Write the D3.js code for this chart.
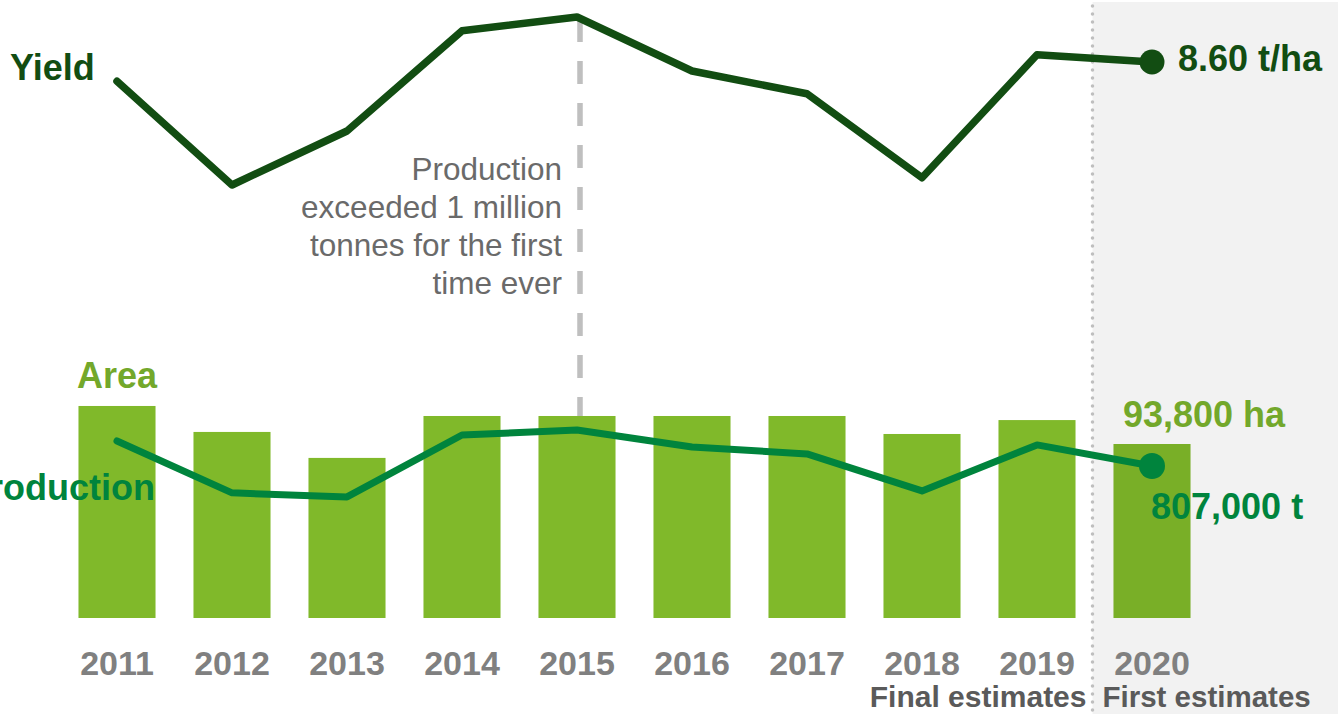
<!DOCTYPE html>
<html>
<head>
<meta charset="utf-8">
<script src="https://cdn.jsdelivr.net/npm/d3@7"></script>
<style>
  html, body { margin: 0; padding: 0; background: #fff; }
  svg text { font-family: 'Liberation Sans', Arial, sans-serif; }
</style>
</head>
<body>
<div id="chart"></div>
<script>
"use strict";
const years = ['2011', '2012', '2013', '2014', '2015', '2016', '2017', '2018', '2019', '2020'];
const area = [114300, 100300, 86300, 108900, 108900, 108900, 108900, 99200, 106700, 93800];       // ha
const production = [948000, 655000, 632000, 982000, 1010000, 914000, 875000, 666000, 926000, 807000]; // t
const yieldVals = [8.28, 6.55, 7.45, 9.12, 9.35, 8.45, 8.07, 6.67, 8.72, 8.60]; // t/ha
const phaseLabels = ['Final estimates', 'First estimates'];
const note = ['Production', 'exceeded 1 million', 'tonnes for the first', 'time ever'];

const W = 1338, H = 714;
const colors = {
    bar: '#80b92a',
    areaText: '#73a82b',
    prod: '#00843d',
    yield: '#124d12',
    grey: '#808080',
    dark: '#5a5a5a',
    note: '#6a6a6a',
    rule: '#bfbfbf'
};

const svg = d3.select('#chart')
    .append('svg')
    .attr('width', W)
    .attr('height', H)
    .attr('viewBox', '0 0 ' + W + ' ' + H);

const x = d3.scaleBand()
    .domain(years)
    .range([59.5, 1209.5])
    .paddingInner(0.33)
    .paddingOuter(0.165);
const xc = d => x(d) + x.bandwidth() / 2;

const yArea = d3.scaleLinear().domain([0, 120000]).range([618, 395.4]);
const yProd = d3.scaleLinear().domain([600000, 1000000]).range([502.6, 431.8]);
const yYield = d3.scaleLinear().domain([6, 10]).range([218, -22]);

// dashed marker at 2015
const markYear = '2015';
const mi = years.indexOf(markYear);
svg.append('line')
    .attr('x1', xc(markYear) + 3).attr('x2', xc(markYear) + 3)
    .attr('y1', yYield(yieldVals[mi]) + 2)
    .attr('y2', yArea(area[mi]))
    .attr('stroke', colors.rule)
    .attr('stroke-width', 5.5)
    .attr('stroke-dasharray', '23,19');

// note text
const noteG = svg.append('text')
    .attr('fill', colors.note)
    .attr('font-size', '31.5px')
    .attr('text-anchor', 'end');
note.forEach((s, i) => {
    noteG.append('tspan')
        .attr('x', xc(markYear) - 15)
        .attr('y', 180 + i * 38)
        .text(s);
});

// bars
svg.selectAll('rect.bar')
    .data(years)
    .enter()
    .append('rect')
    .attr('class', 'bar')
    .attr('x', d => x(d))
    .attr('width', x.bandwidth())
    .attr('y', (d, i) => yArea(area[i]))
    .attr('height', (d, i) => yArea(0) - yArea(area[i]))
    .attr('fill', colors.bar);

// shaded "first estimates" region
const splitX = xc('2020') - x.step() / 2 - 2;
svg.append('rect')
    .attr('x', splitX)
    .attr('y', 2)
    .attr('width', W - splitX)
    .attr('height', H - 2)
    .attr('fill', '#000')
    .attr('fill-opacity', 0.051);
svg.append('line')
    .attr('x1', splitX).attr('x2', splitX)
    .attr('y1', 6).attr('y2', H)
    .attr('stroke', colors.rule)
    .attr('stroke-width', 3.5)
    .attr('stroke-linecap', 'round')
    .attr('stroke-dasharray', '0,8');

// production line
const last = years.length - 1;
svg.append('path')
    .datum(years)
    .attr('fill', 'none')
    .attr('stroke', colors.prod)
    .attr('stroke-width', 7)
    .attr('stroke-linecap', 'round')
    .attr('stroke-linejoin', 'round')
    .attr('d', d3.line().x(d => xc(d)).y((d, i) => yProd(production[i])));
svg.append('circle')
    .attr('cx', xc(years[last]))
    .attr('cy', yProd(production[last]))
    .attr('r', 13)
    .attr('fill', colors.prod);

// yield line
svg.append('path')
    .datum(years)
    .attr('fill', 'none')
    .attr('stroke', colors.yield)
    .attr('stroke-width', 7.5)
    .attr('stroke-linecap', 'round')
    .attr('stroke-linejoin', 'round')
    .attr('d', d3.line().x(d => xc(d)).y((d, i) => yYield(yieldVals[i])));
svg.append('circle')
    .attr('cx', xc(years[last]))
    .attr('cy', yYield(yieldVals[last]))
    .attr('r', 12.5)
    .attr('fill', colors.yield);

// series labels
const fmt = d3.format(',');
function label(txt, px, py, color, anchor) {
    svg.append('text')
        .attr('x', px).attr('y', py)
        .attr('fill', color)
        .attr('font-size', '36px')
        .attr('font-weight', 'bold')
        .attr('text-anchor', anchor || 'start')
        .text(txt);
}
label('Yield', 10, 80, colors.yield);
label('Area', 77, 388, colors.areaText);
label('Production', 155, 500, colors.prod, 'end');
label(yieldVals[last].toFixed(2) + ' t/ha', xc(years[last]) + 26, 71, colors.yield);
label(fmt(area[last]) + ' ha', xc(years[last]) - 29, 427, colors.areaText);
label(fmt(production[last]) + ' t', xc(years[last]) - 1, 519, colors.prod);

// year axis
const xAxis = svg.append('g')
    .attr('transform', 'translate(0,' + yArea(0) + ')')
    .call(d3.axisBottom(x).tickSize(0).tickPadding(0));
xAxis.select('.domain').remove();
xAxis.selectAll('text')
    .attr('y', 57)
    .attr('dy', null)
    .attr('fill', colors.grey)
    .style('font-size', '34px')
    .style('font-weight', 'bold')
    .style('font-family', "'Liberation Sans', Arial, sans-serif");

svg.append('text')
    .attr('x', splitX - 6).attr('y', 707)
    .attr('fill', colors.dark)
    .attr('font-size', '30px')
    .attr('font-weight', 'bold')
    .attr('text-anchor', 'end')
    .text(phaseLabels[0]);
svg.append('text')
    .attr('x', splitX + 10).attr('y', 707)
    .attr('fill', colors.dark)
    .attr('font-size', '29.5px')
    .attr('font-weight', 'bold')
    .text(phaseLabels[1]);
</script>
</body>
</html>
